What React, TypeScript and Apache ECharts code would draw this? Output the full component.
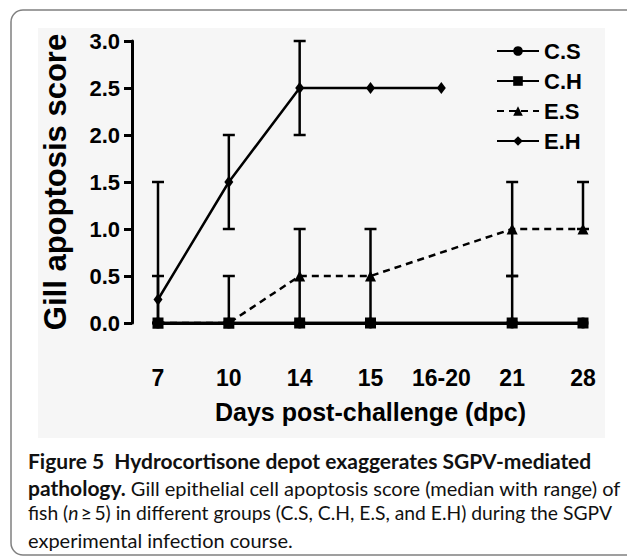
import React, { useEffect, useRef } from "react";
import * as echarts from "echarts";

const CATEGORIES = ["7", "10", "14", "15", "16-20", "21", "28"];
const Y_TICKS = [0, 0.5, 1.0, 1.5, 2.0, 2.5, 3.0];

const CS_VALUES = [0, 0, 0, 0, null, 0, 0];
const CH_VALUES = [0, 0, 0, 0, null, 0, 0];
const ES_VALUES = [0, 0, 0.5, 0.5, null, 1.0, 1.0];
const EH_VALUES = [0.25, 1.5, 2.5, 2.5, 2.5, null, null];

// ranges (low, high)
const CS_LOW = [0, 0, 0, 0, null, 0, 0];
const CS_HIGH = [0, 0, 0, 0, null, 0.5, 0];
const ES_LOW = [0, 0, 0, 0, null, 0.5, 1.0];
const ES_HIGH = [0.5, 0.5, 1.0, 1.0, null, 1.5, 1.5];
const EH_LOW = [0, 1.0, 2.0, 2.5, 2.5, null, null];
const EH_HIGH = [1.5, 2.0, 3.0, 2.5, 2.5, null, null];

const LEGEND = ["C.S", "C.H", "E.S", "E.H"];

const CAPTION_1 = "Figure 5  Hydrocortisone depot exaggerates SGPV-mediated";
const CAPTION_2B = "pathology.";
const CAPTION_2R = " Gill epithelial cell apoptosis score (median with range) of";
const CAPTION_3A = "fish (";
const CAPTION_3I = "n";
const CAPTION_3B = "\u2009\u2265\u20095) in different groups (C.S, C.H, E.S, and E.H) during the SGPV";
const CAPTION_4 = "experimental infection course.";

const FONT = "'Liberation Sans', Arial, Helvetica, sans-serif";
const CAP_FONT = "Lato, 'Open Sans', sans-serif";

function buildRanges() {
  const out: number[][] = [];
  const add = (lo: (number | null)[], hi: (number | null)[]) => {
    lo.forEach((l, i) => {
      const h = hi[i];
      if (l == null || h == null || h <= l) return;
      out.push([i, l, h]);
    });
  };
  add(CS_LOW, CS_HIGH);
  add(ES_LOW, ES_HIGH);
  add(EH_LOW, EH_HIGH);
  return out;
}

export default function App() {
  const ref = useRef<HTMLDivElement>(null);

  useEffect(() => {
    document.body.style.margin = "0";
    const chart = echarts.init(ref.current!, undefined, { renderer: "svg" });
    const lineBase = {
      type: "line",
      connectNulls: true,
      clip: false,
      lineStyle: { color: "#000", width: 2.5 },
      itemStyle: { color: "#000" },
      z: 3,
    };
    const bold = { fontFamily: CAP_FONT, fontWeight: "bold", fontSize: 21, fill: "#111" };
    const reg = { fontFamily: CAP_FONT, fontSize: 20, fill: "#111" };
    const reg3 = { fontFamily: CAP_FONT, fontSize: 19.3, fill: "#111" };
    const ital = { fontFamily: CAP_FONT, fontStyle: "italic", fontSize: 19.3, fill: "#111" };
    const option: any = {
      animation: false,
      backgroundColor: "#fff",
      grid: { left: 158, right: 44, top: 41, bottom: 236, containLabel: false },
      legend: {
        data: LEGEND,
        orient: "vertical",
        left: 496,
        top: 40,
        padding: 0,
        itemWidth: 42,
        itemHeight: 12,
        itemGap: 8,
        selectedMode: false,
        textStyle: {
          fontFamily: FONT,
          fontWeight: "bold",
          fontSize: 22,
          lineHeight: 22,
          color: "#000",
        },
      },
      xAxis: {
        type: "category",
        data: CATEGORIES,
        boundaryGap: false,
        offset: 28,
        axisLine: { lineStyle: { color: "#000", width: 3 } },
        axisTick: { show: false },
        axisLabel: {
          color: "#000",
          fontFamily: FONT,
          fontWeight: "bold",
          fontSize: 23,
          margin: 15,
          interval: 0,
        },
        name: "Days post-challenge (dpc)",
        nameLocation: "middle",
        nameGap: 48,
        nameTextStyle: {
          color: "#000",
          fontFamily: FONT,
          fontWeight: "bold",
          fontSize: 25,
        },
        splitLine: { show: false },
      },
      yAxis: {
        type: "value",
        min: Y_TICKS[0],
        max: Y_TICKS[Y_TICKS.length - 1],
        interval: 0.5,
        offset: 26,
        axisLine: { show: true, lineStyle: { color: "#000", width: 3 } },
        axisTick: { show: true, length: 8, lineStyle: { color: "#000", width: 3 } },
        axisLabel: {
          color: "#000",
          fontFamily: FONT,
          fontWeight: "bold",
          fontSize: 22,
          margin: 12,
          formatter: (v: number) => v.toFixed(1),
        },
        splitLine: { show: false },
        name: "Gill apoptosis score",
        nameLocation: "middle",
        nameGap: 61,
        nameTextStyle: {
          color: "#000",
          fontFamily: FONT,
          fontWeight: "bold",
          fontSize: 31,
        },
      },
      graphic: {
        elements: [
          {
            type: "rect",
            z: -10,
            silent: true,
            shape: { x: 38, y: 28, width: 567, height: 410 },
            style: { fill: "#f6f6f6" },
          },
          {
            type: "rect",
            z: -9,
            silent: true,
            shape: { x: 11, y: 10, width: 660, height: 545, r: 12 },
            style: { fill: "none", stroke: "#808080", lineWidth: 1.5 },
          },
          {
            type: "text",
            left: 28,
            top: 450,
            style: { text: `{b|${CAPTION_1}}`, rich: { b: bold } },
          },
          {
            type: "text",
            left: 28,
            top: 477,
            style: { text: `{b|${CAPTION_2B}}{r|${CAPTION_2R}}`, rich: { b: bold, r: reg } },
          },
          {
            type: "text",
            left: 28,
            top: 503,
            style: {
              text: `{r|${CAPTION_3A}}{i|${CAPTION_3I}}{r|${CAPTION_3B}}`,
              rich: { r: reg3, i: ital },
            },
          },
          {
            type: "text",
            left: 28,
            top: 530,
            style: { text: `{r|${CAPTION_4}}`, rich: { r: reg } },
          },
        ],
      },
      series: [
        {
          type: "custom",
          name: "range",
          clip: false,
          z: 2,
          encode: { x: 0, y: [1, 2] },
          data: buildRanges(),
          renderItem: (params: any, api: any) => {
            const x = api.value(0);
            const lo = api.coord([x, api.value(1)]);
            const hi = api.coord([x, api.value(2)]);
            const w = 6;
            const st = { stroke: "#000", lineWidth: 2.5 };
            return {
              type: "group",
              children: [
                { type: "line", shape: { x1: lo[0], y1: lo[1], x2: hi[0], y2: hi[1] }, style: st },
                { type: "line", shape: { x1: lo[0] - w, y1: lo[1], x2: lo[0] + w, y2: lo[1] }, style: st },
                { type: "line", shape: { x1: hi[0] - w, y1: hi[1], x2: hi[0] + w, y2: hi[1] }, style: st },
              ],
            };
          },
        },
        { ...lineBase, name: "C.S", data: CS_VALUES, symbol: "circle", symbolSize: 11 },
        { ...lineBase, name: "C.H", data: CH_VALUES, symbol: "rect", symbolSize: 11 },
        {
          ...lineBase,
          name: "E.S",
          data: ES_VALUES,
          symbol: "triangle",
          symbolSize: 11,
          lineStyle: { color: "#000", width: 2.5, type: [7, 5] },
        },
        { ...lineBase, name: "E.H", data: EH_VALUES, symbol: "diamond", symbolSize: [9, 12] },
      ],
    };
    chart.setOption(option);
    return () => chart.dispose();
  }, []);

  return <div ref={ref} style={{ position: "fixed", left: 0, top: 0, width: 627, height: 559 }} />;
}
